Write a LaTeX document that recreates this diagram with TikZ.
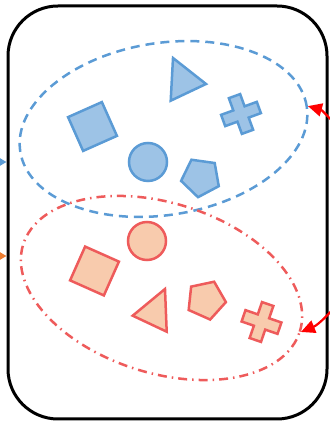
\documentclass[tikz,border=0pt]{standalone}
\usetikzlibrary{shapes.geometric,arrows.meta}
\definecolor{bstroke}{HTML}{5B9BD5}
\definecolor{bfill}{HTML}{9DC3E6}
\definecolor{rstroke}{HTML}{EE5B5B}
\definecolor{rfill}{HTML}{F8CBAD}
\definecolor{oarrow}{HTML}{ED7D31}
\begin{document}
\begin{tikzpicture}[x=1pt,y=1pt,
  bshape/.style={draw=bstroke, fill=bfill, line width=2.5pt},
  rshape/.style={draw=rstroke, fill=rfill, line width=2.5pt},
  setellipse/.style={ellipse, line width=2.5pt, inner sep=0pt, minimum width=290pt},
  sidearrow/.style={-{Triangle[length=9pt,width=10pt]}, line width=2pt},
  redarrow/.style={-{Triangle[length=14pt,width=13pt]}, line width=2.2pt, color=red}]
\useasboundingbox (0,0) rectangle (329,422);
% outer container
\node[draw, line width=3pt, rounded corners=50pt, minimum width=319pt,
      minimum height=413pt, inner sep=0pt] (outer) at (167.5,209.5) {};
% sets
\node[setellipse, draw=bstroke, dash pattern=on 9pt off 6pt,
      minimum height=172pt, rotate=9] (blueset) at (163.5,293) {};
\node[setellipse, draw=rstroke, dash pattern=on 9pt off 5pt on 1.5pt off 5pt,
      minimum height=170pt, rotate=-17.5] (redset) at (161.5,134) {};
% blue shapes
\node[bshape, rectangle, minimum size=37pt, inner sep=0pt, rotate=24] (bsq) at (92.5,295.5) {};
\node[bshape, circle, minimum size=38pt, inner sep=0pt] (bci) at (148,260) {};
\node[bshape, regular polygon, regular polygon sides=5, minimum size=40pt,
      inner sep=0pt, rotate=28] (bpe) at (200.8,244.6) {};
\draw[bshape] (173,364) -- (206,338) -- (170.7,321.3) -- cycle;
\draw[bshape, shift={(241,308)}, rotate=20]
  (-6,19) -- (6,19) -- (6,6) -- (19,6) -- (19,-6) -- (6,-6) -- (6,-19)
  -- (-6,-19) -- (-6,-6) -- (-19,-6) -- (-19,6) -- (-6,6) -- cycle;
% red shapes
\node[rshape, circle, minimum size=38pt, inner sep=0pt] (rci) at (147,181) {};
\node[rshape, rectangle, minimum size=37pt, inner sep=0pt, rotate=-24] (rsq) at (94.5,151) {};
\node[rshape, regular polygon, regular polygon sides=5, minimum size=40pt,
      inner sep=0pt, rotate=-24] (rpe) at (206,122) {};
\draw[rshape] (165,133) -- (166.7,90.3) -- (132.7,106.3) -- cycle;
\draw[rshape, shift={(261.5,100)}, rotate=-19]
  (-6,19) -- (6,19) -- (6,6) -- (19,6) -- (19,-6) -- (6,-6) -- (6,-19)
  -- (-6,-19) -- (-6,-6) -- (-19,-6) -- (-19,6) -- (-6,6) -- cycle;
% incoming arrows on the left
\coordinate (bin) at (-20,260);
\coordinate (oin) at (-20,166);
\draw[sidearrow, color=bstroke] (bin) -- (outer.west |- bin);
\draw[sidearrow, color=oarrow] (oin) -- (outer.west |- oin);
% red arrows on the right
\coordinate (r1) at (345,288);
\coordinate (r2) at (345,128);
\draw[redarrow] (r1) .. controls (333,300) and (322,312) .. (blueset.east);
\draw[redarrow] (r2) .. controls (332,110) and (318,97) .. (redset.east);
\end{tikzpicture}
\end{document}
